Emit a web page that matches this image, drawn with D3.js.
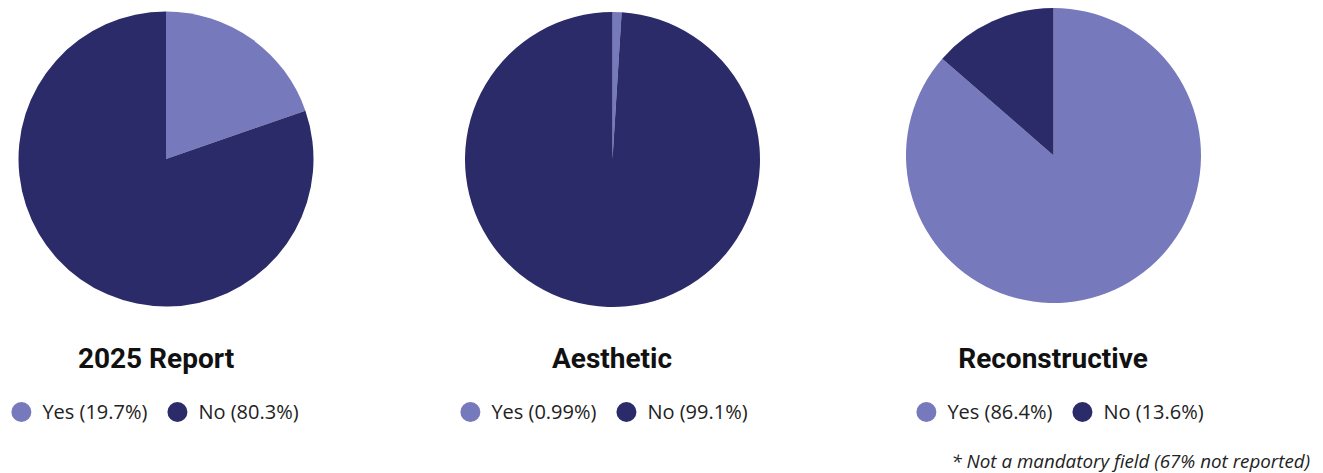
<!DOCTYPE html>
<html>
<head>
<meta charset="utf-8">
<script src="https://cdn.jsdelivr.net/npm/d3@7"></script>
<style>
  body { margin: 0; background: #fff; }
  .title { font-family: Roboto, "Noto Sans", sans-serif; font-weight: 700; font-size: 28px; fill: #111; }
  .legend text { font-family: "Open Sans", "Noto Sans", sans-serif; font-size: 20px; fill: #222; }
  .note { font-family: "Open Sans", "Noto Sans", sans-serif; font-style: italic; font-size: 18.8px; fill: #222; }
</style>
</head>
<body>
<svg id="chart" width="1323" height="473"></svg>
<script>
// chart data
const titles = ["2025 Report", "Aesthetic", "Reconstructive"];
const categories = ["Yes", "No"];
const yesValues = [19.7, 0.99, 86.4];
const noValues = [80.3, 99.1, 13.6];
const footnote = "* Not a mandatory field (67% not reported)";

const colors = d3.scaleOrdinal().domain(categories).range(["#7679bb", "#2b2b69"]);

const svg = d3.select("#chart");

// layout of each card
const centers = [[166, 159], [612.5, 159.5], [1053.5, 155.5]];
const titleX = [156, 612, 1053];
const legendX = [155, 604, 1060];
const radius = 147.5;

const pie = d3.pie().sort(null).value(d => d.value);
const arc = d3.arc().innerRadius(0).outerRadius(radius);

titles.forEach(function(title, i) {
    let data = [
        {name: categories[0], value: yesValues[i]},
        {name: categories[1], value: noValues[i]}
    ];
    let g = svg.append("g")
        .attr("transform", "translate(" + centers[i][0] + "," + centers[i][1] + ")");

    g.selectAll("path")
        .data(pie(data))
        .join("path")
        .attr("d", arc)
        .attr("fill", d => colors(d.data.name));

    svg.append("text")
        .attr("class", "title")
        .attr("x", titleX[i])
        .attr("y", 368)
        .attr("text-anchor", "middle")
        .text(title);

    // legend, centred under the card
    let legend = svg.append("g").attr("class", "legend");
    let x = 0;
    let parts = [];
    data.forEach(function(d, j) {
        let item = legend.append("g");
        item.append("circle").attr("cx", 10).attr("cy", 0).attr("r", 10)
            .attr("fill", colors(d.name));
        let t = item.append("text").attr("x", 31).attr("y", 7)
            .text(d.name + " (" + d.value + "%)");
        let w = 31 + t.node().getComputedTextLength();
        parts.push({item: item, x: x});
        x += w + 20;
    });
    let total = x - 20;
    let left = legendX[i] - total / 2;
    parts.forEach(p => p.item.attr("transform", "translate(" + (left + p.x) + ",412)"));
});

svg.append("text")
    .attr("class", "note")
    .attr("x", 1310)
    .attr("y", 468)
    .attr("text-anchor", "end")
    .text(footnote);
</script>
</body>
</html>
